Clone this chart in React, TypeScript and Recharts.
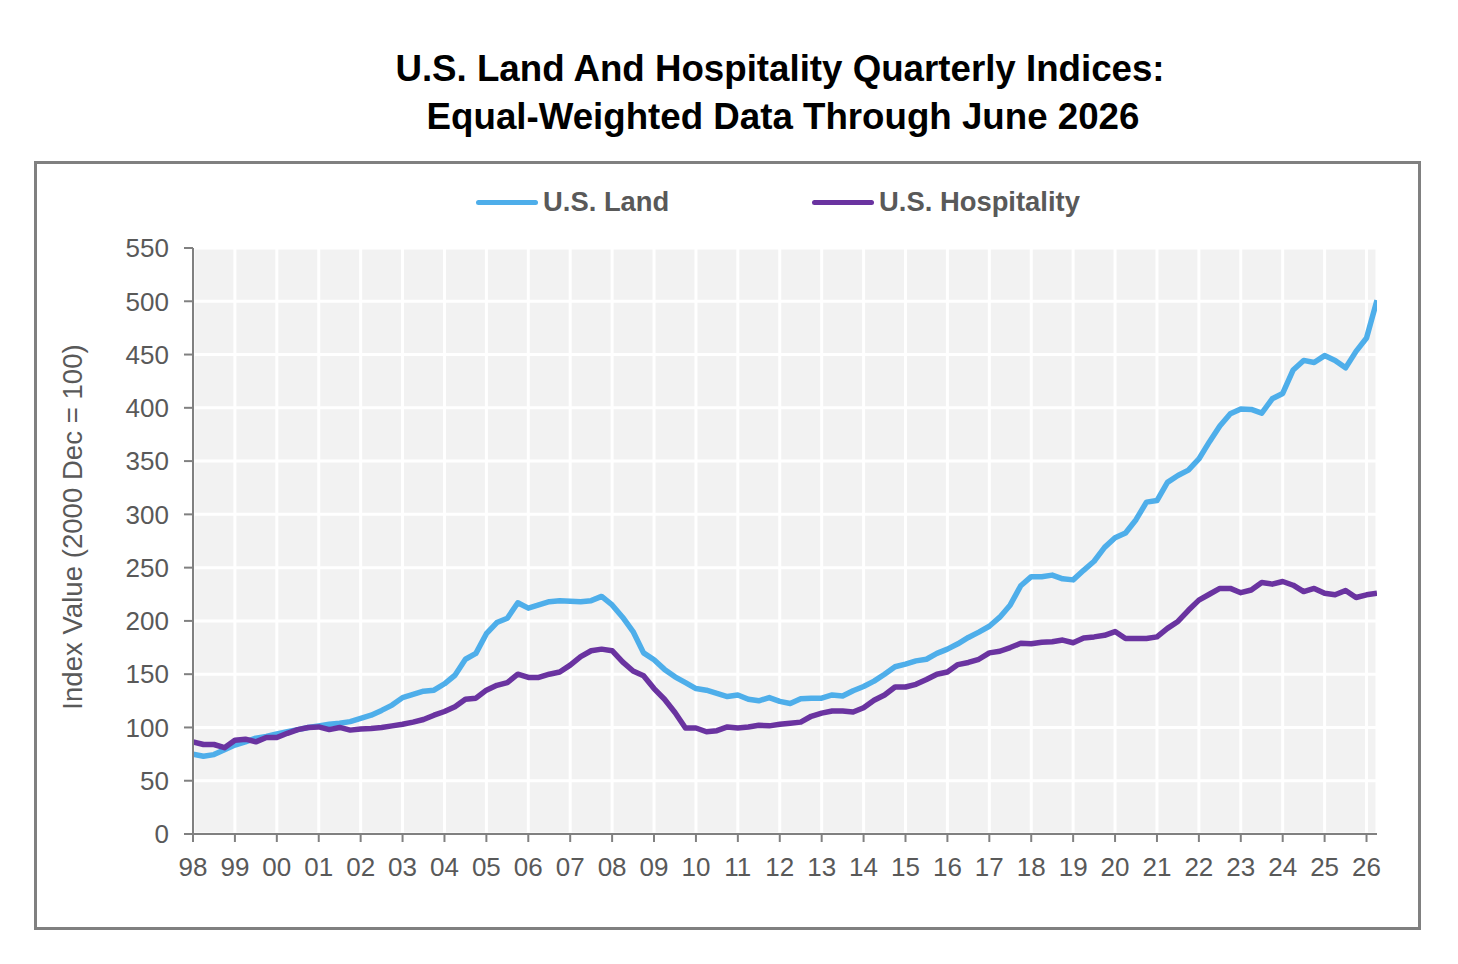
import React from 'react';
import { LineChart, Line, XAxis, YAxis, CartesianGrid, Legend, Label } from 'recharts';

const yearLabels = ['98','99','00','01','02','03','04','05','06','07','08','09','10','11','12','13','14','15','16','17','18','19','20','21','22','23','24','25','26'];

const landValues = [
  75, 73, 74.5, 79,
  83.5, 86.5, 90, 91.5,
  94, 96, 98, 100,
  101.5, 103, 104, 105.5,
  108.5, 111.5, 116, 121,
  128, 131, 134, 135,
  141, 149, 164, 169.5,
  188, 198.5, 202.5, 217,
  212, 215, 218, 219,
  218.5, 218, 219, 223,
  215, 203.5, 190, 170,
  163.5, 154.5, 147.5, 142,
  136.5, 135, 132, 129,
  130.5, 126.5, 125, 128,
  124.5, 122.5, 127, 127.5,
  127.5, 130.5, 129.5, 134.5,
  138.5, 143.5, 150, 157,
  159.5, 162.5, 164, 169.5,
  173.5, 178.5, 184.5, 189.5,
  195, 203.5, 215, 233,
  241.5, 241.5, 243, 239.5,
  238.5, 247.5, 256, 269,
  278, 282.5, 295, 311.5,
  313, 330, 336.5, 341.5,
  352, 368, 383, 394.5,
  399, 398.5, 395, 408.5,
  413.5, 435.5, 444.5, 442.5,
  449, 444.5, 437.5, 453,
  465.5, 501,
];

const hospitalityValues = [
  86.5, 84, 84, 81,
  88, 89, 86.5, 90.5,
  90.5, 94.5, 98, 100,
  100.5, 98, 100, 97.5,
  98.5, 99, 100, 101.5,
  103, 105, 107.5, 111.5,
  115, 119.5, 126.5, 127.5,
  135, 139.5, 142, 150,
  147, 147, 150, 152,
  158.5, 166.5, 172, 173.5,
  172, 161.5, 153, 148.5,
  136.5, 126.5, 114, 99.5,
  99.5, 96, 97, 100.5,
  99.5, 100.5, 102, 101.5,
  103, 104, 105, 110.5,
  113.5, 115.5, 115.5, 114.5,
  118.5, 125.5, 130.5, 138,
  138, 140.5, 145, 150,
  152, 159, 161, 164,
  170, 171.5, 175, 179,
  178.5, 180, 180.5, 182,
  179.5, 184, 185, 186.5,
  190, 183.5, 183.5, 183.5,
  185, 193, 199.5, 210,
  219.5, 225, 230.5, 230.5,
  226.5, 229, 236, 234.5,
  237, 233.5, 227.5, 230.5,
  226, 224.5, 228.5, 222,
  224.5, 226,
];

const yTicks = [0, 50, 100, 150, 200, 250, 300, 350, 400, 450, 500, 550];
const seriesNames = ['U.S. Land', 'U.S. Hospitality'];
const seriesColors = ['#4eaeea', '#6a33a0'];

const data = landValues.map((v, i) => ({ q: i, land: v, hospitality: hospitalityValues[i] }));
const xTicks = yearLabels.map((_, k) => k * 4);

const FONT = '"Liberation Sans", Arial, Helvetica, sans-serif';
const GREY_TEXT = '#595959';
const AXIS_GREY = '#808080';

const legendLefts = [476, 812];

const renderLegend = () => (
  <div style={{ position: 'relative', width: 1458, height: 40 }}>
    {seriesNames.map((name, k) => (
      <div
        key={name}
        style={{ position: 'absolute', left: legendLefts[k], top: 0, height: 40, display: 'flex', alignItems: 'center' }}
      >
        <span style={{ display: 'inline-block', width: 62, height: 5, borderRadius: 3, background: seriesColors[k] }} />
        <span style={{ marginLeft: 5, fontFamily: FONT, fontWeight: 'bold', fontSize: 27.4, color: GREY_TEXT, whiteSpace: 'nowrap' }}>
          {name}
        </span>
      </div>
    ))}
  </div>
);

export default function App() {
  return (
    <div style={{ position: 'absolute', left: 0, top: 0, width: 1458, height: 964, background: '#fff' }}>
      <div
        style={{
          position: 'absolute',
          left: 0,
          top: 45,
          width: 1560,
          textAlign: 'center',
          fontFamily: FONT,
          fontWeight: 'bold',
          fontSize: 36.7,
          lineHeight: '48px',
          color: '#000',
        }}
      >
        <div>U.S. Land And Hospitality Quarterly Indices:</div>
        <div style={{ paddingLeft: 6 }}>Equal-Weighted Data Through June 2026</div>
      </div>
      <div
        style={{
          position: 'absolute',
          left: 34,
          top: 161,
          width: 1387,
          height: 769,
          border: `3px solid ${AXIS_GREY}`,
          boxSizing: 'border-box',
        }}
      />
      <div style={{ position: 'absolute', left: 0, top: 0 }}>
        <LineChart
          width={1458}
          height={964}
          data={data}
          margin={{ top: 248, right: 81, bottom: 70, left: 93 }}
        >
          <CartesianGrid fill="#f2f2f2" fillOpacity={1} stroke="#ffffff" strokeWidth={3} />
          <XAxis
            dataKey="q"
            type="number"
            domain={[0, 113]}
            ticks={xTicks}
            interval={0}
            tickFormatter={(v: number) => yearLabels[Math.round(v / 4)]}
            height={60}
            tickSize={8}
            tickMargin={16}
            stroke={AXIS_GREY}
            strokeWidth={2}
            tick={{ fill: GREY_TEXT, fontSize: 26, fontFamily: FONT }}
            allowDataOverflow
          />
          <YAxis
            type="number"
            domain={[0, 550]}
            ticks={yTicks}
            interval={0}
            width={100}
            tickSize={9}
            tickMargin={15}
            stroke={AXIS_GREY}
            strokeWidth={2}
            tick={{ fill: GREY_TEXT, fontSize: 26, fontFamily: FONT }}
          >
            <Label
              content={() => (
                <text
                  x={72}
                  y={527}
                  transform="rotate(-90 72 527)"
                  textAnchor="middle"
                  dominantBaseline="central"
                  fill={GREY_TEXT}
                  fontSize={27.6}
                  fontFamily={FONT}
                >
                  Index Value (2000 Dec = 100)
                </text>
              )}
            />
          </YAxis>
          <Legend
            layout="horizontal"
            verticalAlign="middle"
            align="center"
            content={renderLegend}
            wrapperStyle={{ position: 'absolute', top: 182, left: 0, width: 1458, margin: 0 }}
          />
          <Line
            type="linear"
            dataKey="land"
            name={seriesNames[0]}
            stroke={seriesColors[0]}
            strokeWidth={5.5}
            strokeLinejoin="round"
            dot={false}
            activeDot={false}
            isAnimationActive={false}
          />
          <Line
            type="linear"
            dataKey="hospitality"
            name={seriesNames[1]}
            stroke={seriesColors[1]}
            strokeWidth={5.5}
            strokeLinejoin="round"
            dot={false}
            activeDot={false}
            isAnimationActive={false}
          />
        </LineChart>
      </div>
    </div>
  );
}
